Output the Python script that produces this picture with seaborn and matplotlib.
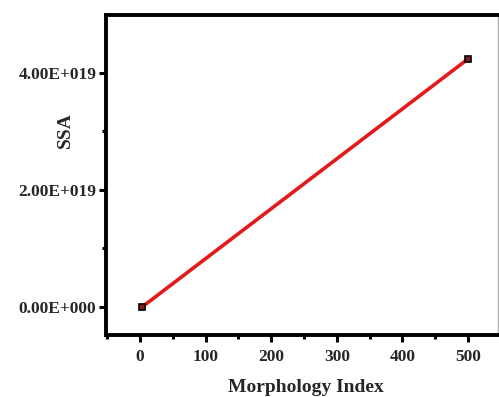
import matplotlib
matplotlib.use("Agg")
import pandas as pd
import seaborn as sns
import matplotlib.pyplot as plt
from matplotlib.ticker import MultipleLocator

# data
morphology_index = [3, 500]
ssa = [0.0, 4.24e19]

x_ticks = [0, 100, 200, 300, 400, 500]
y_ticks = [0.0, 2e19, 4e19]
y_tick_labels = ["0.00E+000", "2.00E+019", "4.00E+019"]

df = pd.DataFrame({"Morphology Index": morphology_index, "SSA": ssa})

sns.set_theme(style="ticks")
plt.rcParams["font.family"] = ["Liberation Serif", "DejaVu Serif"]
plt.rcParams["font.weight"] = "bold"

fig = plt.figure(figsize=(4.99, 3.97), dpi=100)
ax = fig.add_axes([0.2124, 0.156, 0.786, 0.806])

sns.lineplot(data=df, x="Morphology Index", y="SSA", color="#e31a1c",
             linewidth=2.6, marker="s", markersize=4.5,
             markerfacecolor="#8b1a1a", markeredgecolor="black",
             markeredgewidth=1.2, ax=ax)

ax.set_xlim(-52, 546)
ax.set_ylim(-0.48e19, 4.99e19)
ax.set_xticks(x_ticks)
ax.set_yticks(y_ticks)
ax.set_yticklabels(y_tick_labels)
ax.xaxis.set_minor_locator(MultipleLocator(50))
ax.yaxis.set_minor_locator(MultipleLocator(1e19))

ax.tick_params(which="major", direction="out", length=5, width=2.2,
               labelsize=12.5, color="black", pad=2)
ax.tick_params(axis="x", which="major", pad=5)
ax.tick_params(which="minor", direction="out", length=3, width=2.2,
               color="black")
ax.tick_params(top=False, right=False, which="both")
for lab in ax.get_xticklabels() + ax.get_yticklabels():
    lab.set_fontweight("bold")

for side in ["left", "bottom", "top"]:
    ax.spines[side].set_linewidth(2.8)
    ax.spines[side].set_color("black")
ax.spines["right"].set_linewidth(1)
ax.spines["right"].set_color("#b0b0b0")

ax.set_xlabel("Morphology Index", fontsize=14, fontweight="bold")
ax.set_ylabel("SSA", fontsize=14, fontweight="bold")
ax.xaxis.set_label_coords(0.51, -0.137)
ax.yaxis.set_label_coords(-0.082, 0.64)

fig.savefig("out.png", dpi=100)
